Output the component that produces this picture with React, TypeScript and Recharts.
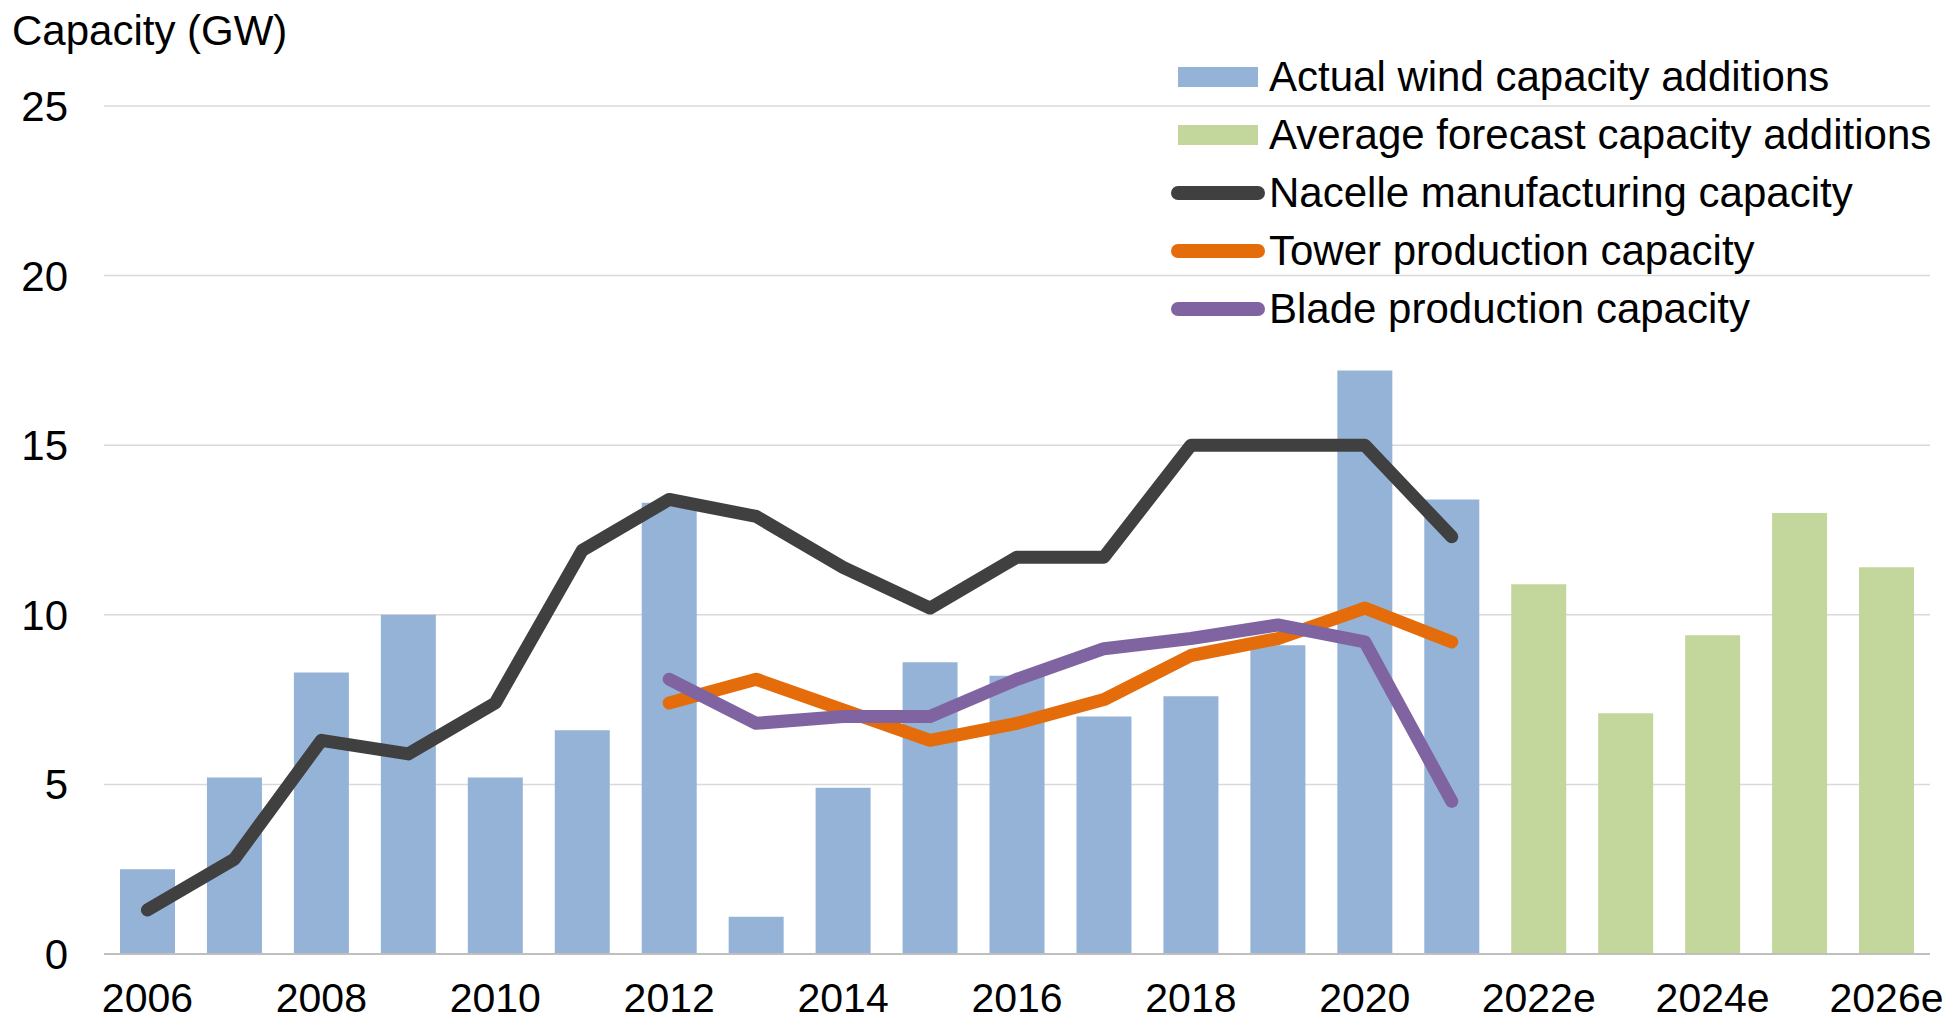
import React from 'react';
import { ComposedChart, Bar, Line, XAxis, YAxis, CartesianGrid, Legend } from 'recharts';

const years = ['2006','2007','2008','2009','2010','2011','2012','2013','2014','2015','2016','2017','2018','2019','2020','2021','2022e','2023e','2024e','2025e','2026e'];
const actualAdditions = [2.5, 5.2, 8.3, 10.0, 5.2, 6.6, 13.3, 1.1, 4.9, 8.6, 8.2, 7.0, 7.6, 9.1, 17.2, 13.4, null, null, null, null, null];
const forecastAdditions = [null, null, null, null, null, null, null, null, null, null, null, null, null, null, null, null, 10.9, 7.1, 9.4, 13.0, 11.4];
const nacelleCapacity = [1.3, 2.8, 6.3, 5.9, 7.4, 11.9, 13.4, 12.9, 11.4, 10.2, 11.7, 11.7, 15.0, 15.0, 15.0, 12.3, null, null, null, null, null];
const towerCapacity = [null, null, null, null, null, null, 7.4, 8.1, 7.2, 6.3, 6.8, 7.5, 8.8, 9.3, 10.2, 9.2, null, null, null, null, null];
const bladeCapacity = [null, null, null, null, null, null, 8.1, 6.8, 7.0, 7.0, 8.1, 9.0, 9.3, 9.7, 9.2, 4.5, null, null, null, null, null];
const xTicks = ['2006','2008','2010','2012','2014','2016','2018','2020','2022e','2024e','2026e'];
const yTicks = [0, 5, 10, 15, 20, 25];

const seriesLabels = {
  actual: 'Actual wind capacity additions',
  forecast: 'Average forecast capacity additions',
  nacelle: 'Nacelle manufacturing capacity',
  tower: 'Tower production capacity',
  blade: 'Blade production capacity',
};

const COLORS = {
  actual: '#95B3D7',
  forecast: '#C3D69B',
  nacelle: '#404040',
  tower: '#E46C0A',
  blade: '#8064A2',
};

const data = years.map((y, i) => ({
  year: y,
  actual: actualAdditions[i],
  forecast: forecastAdditions[i],
  nacelle: nacelleCapacity[i],
  tower: towerCapacity[i],
  blade: bladeCapacity[i],
}));

const FONT = '"Liberation Sans", Arial, sans-serif';

const legendItems: { key: keyof typeof COLORS; kind: 'rect' | 'line' }[] = [
  { key: 'actual', kind: 'rect' },
  { key: 'forecast', kind: 'rect' },
  { key: 'nacelle', kind: 'line' },
  { key: 'tower', kind: 'line' },
  { key: 'blade', kind: 'line' },
];

const LegendContent = () => (
  <div style={{ fontFamily: FONT, fontSize: 42, color: '#000' }}>
    {legendItems.map((it) => (
      <div key={it.key} style={{ display: 'flex', alignItems: 'center', height: 58, lineHeight: '58px', whiteSpace: 'nowrap' }}>
        <div style={{ width: 94, display: 'flex', alignItems: 'center', justifyContent: 'center' }}>
          {it.kind === 'rect' ? (
            <div style={{ width: 80, height: 20, background: COLORS[it.key] }} />
          ) : (
            <div style={{ width: 94, height: 14, borderRadius: 7, background: COLORS[it.key] }} />
          )}
        </div>
        <span style={{ marginLeft: 4 }}>{seriesLabels[it.key]}</span>
      </div>
    ))}
  </div>
);

export default function App() {
  return (
    <div style={{ position: 'absolute', left: 0, top: 0, width: 1951, height: 1021, background: '#fff' }}>
      <ComposedChart
        width={1951}
        height={1021}
        data={data}
        margin={{ top: 106, right: 21, bottom: 0, left: 0 }}
        barSize={55}
      >
        <CartesianGrid vertical={false} stroke="#D9D9D9" strokeWidth={1.5} />
        <XAxis
          dataKey="year"
          ticks={xTicks}
          interval={0}
          height={67}
          tickLine={false}
          tickSize={0}
          tickMargin={29}
          axisLine={{ stroke: '#BFBFBF', strokeWidth: 2 }}
          tick={{ fontSize: 41, fill: '#000', fontFamily: FONT }}
        />
        <YAxis
          domain={[0, 25]}
          ticks={yTicks}
          width={104}
          axisLine={false}
          tickLine={false}
          tickSize={0}
          tickMargin={36}
          tick={{ fontSize: 42, fill: '#000', fontFamily: FONT }}
        />
        <Legend
          layout="vertical"
          align="center"
          verticalAlign="middle"
          wrapperStyle={{ left: 1171, top: 48, width: 780 }}
          content={<LegendContent />}
        />
        <Bar dataKey="actual" name={seriesLabels.actual} stackId="a" fill={COLORS.actual} isAnimationActive={false} />
        <Bar dataKey="forecast" name={seriesLabels.forecast} stackId="a" fill={COLORS.forecast} isAnimationActive={false} />
        <Line type="linear" dataKey="nacelle" name={seriesLabels.nacelle} stroke={COLORS.nacelle} strokeWidth={13} dot={false} activeDot={false} strokeLinecap="round" strokeLinejoin="round" isAnimationActive={false} />
        <Line type="linear" dataKey="tower" name={seriesLabels.tower} stroke={COLORS.tower} strokeWidth={13} dot={false} activeDot={false} strokeLinecap="round" strokeLinejoin="round" isAnimationActive={false} />
        <Line type="linear" dataKey="blade" name={seriesLabels.blade} stroke={COLORS.blade} strokeWidth={13} dot={false} activeDot={false} strokeLinecap="round" strokeLinejoin="round" isAnimationActive={false} />
        <text x={12} y={45} fontSize={42} fontFamily={FONT} fill="#000">Capacity (GW)</text>
      </ComposedChart>
    </div>
  );
}
